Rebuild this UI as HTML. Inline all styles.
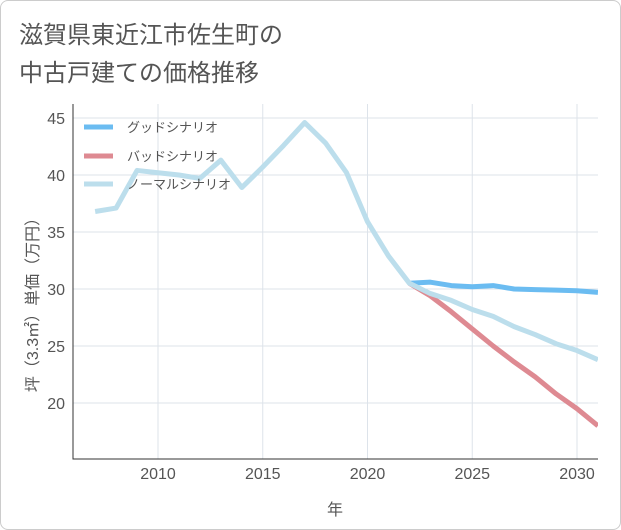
<!DOCTYPE html>
<html><head><meta charset="utf-8"><style>
body{margin:0;background:#fff;}
#card{position:absolute;left:0;top:0;width:619px;height:528px;border:1px solid #ccc;border-radius:8px;background:#fff;overflow:hidden;}
svg text{font-family:"Liberation Sans","Noto Sans CJK JP",sans-serif;}
</style></head><body>
<div id="card">
<svg id="chart" width="621" height="530"></svg>
</div>
<script>
const years=[2007,2008,2009,2010,2011,2012,2013,2014,2015,2016,2017,2018,2019,2020,2021,2022,2023,2024,2025,2026,2027,2028,2029,2030,2031];
const normalVals=[36.8,37.1,40.4,40.2,40.0,39.7,41.3,38.9,40.7,42.6,44.6,42.8,40.2,35.9,32.9,30.5,29.6,29.0,28.2,27.6,26.7,26.0,25.2,24.6,23.8];
const futureYears=[2022,2023,2024,2025,2026,2027,2028,2029,2030,2031];
const goodVals=[30.5,30.6,30.3,30.2,30.3,30.0,29.95,29.9,29.85,29.7];
const badVals=[30.5,29.4,28.0,26.5,25.0,23.6,22.3,20.8,19.5,18.0];
const xTicks=[2010,2015,2020,2025,2030];
const yTicks=[20,25,30,35,40,45];
const NS='http://www.w3.org/2000/svg';
const svg=document.getElementById('chart');
const L=72,R=597,T=103,B=458;
const x=v=>157+(v-2010)*(419/20);
const y=v=>402-(v-20)*(285/25);
function mk(tag,attrs,parent){const e=document.createElementNS(NS,tag);for(const k in attrs)e.setAttribute(k,attrs[k]);(parent||svg).appendChild(e);return e;}
function txt(s,attrs){const e=mk('text',attrs);e.textContent=s;return e;}
// title
let t1=txt('滋賀県東近江市佐生町の',{x:18,y:42,'font-size':24,fill:'#555'});

let t2=txt('中古戸建ての価格推移',{x:18,y:80,'font-size':24,fill:'#555'});

// grid
xTicks.forEach(v=>{const g=mk('line',{x1:x(v),x2:x(v),y1:T,y2:B,stroke:'#dde3ea','stroke-width':1});

const l=txt(v,{x:x(v),y:478,'font-size':16,fill:'#555','text-anchor':'middle'});
});
yTicks.forEach(v=>{const g=mk('line',{x1:L,x2:R,y1:y(v),y2:y(v),stroke:'#dde3ea','stroke-width':1});

const l=txt(v,{x:64,y:y(v)+6,'font-size':16,fill:'#555','text-anchor':'end'});
});
const ax=mk('path',{d:`M${L},${T}V${B}H${R}`,fill:'none',stroke:'#333','stroke-width':1});

const xt=txt('年',{x:334,y:514,'font-size':16,fill:'#555','text-anchor':'middle'});

const yt=txt('坪（3.3㎡）単価（万円）',{x:0,y:0,'font-size':16,fill:'#555','text-anchor':'middle',transform:'translate(37,300) rotate(-90)'});

const clip=mk('clipPath',{id:'pc'});mk('rect',{x:L,y:T,width:R-L,height:B-T},clip);
function line(xs,vs,color,name){const d=xs.map((v,i)=>(i?'L':'M')+x(v)+','+y(vs[i])).join('');
const p=mk('path',{d,fill:'none',stroke:color,'stroke-width':5,'stroke-linejoin':'round','clip-path':'url(#pc)'});
}
line(futureYears,badVals,'#de8a92','bad-scenario-line');
line(futureYears,goodVals,'#6bbcf1','good-scenario-line');
line(years,normalVals,'#bcdeec','normal-scenario-line');
// legend
[['グッドシナリオ','#6bbcf1',126],['バッドシナリオ','#de8a92',155],['ノーマルシナリオ','#bcdeec',183]].forEach(([s,c,yy],i)=>{
const g=mk('g',{});
mk('line',{x1:83,x2:112,y1:yy,y2:yy,stroke:c,'stroke-width':5},g);
const tt=mk('text',{x:126,y:yy+5,'font-size':13,fill:'#555'},g);tt.textContent=s;});
</script>
</body></html>
